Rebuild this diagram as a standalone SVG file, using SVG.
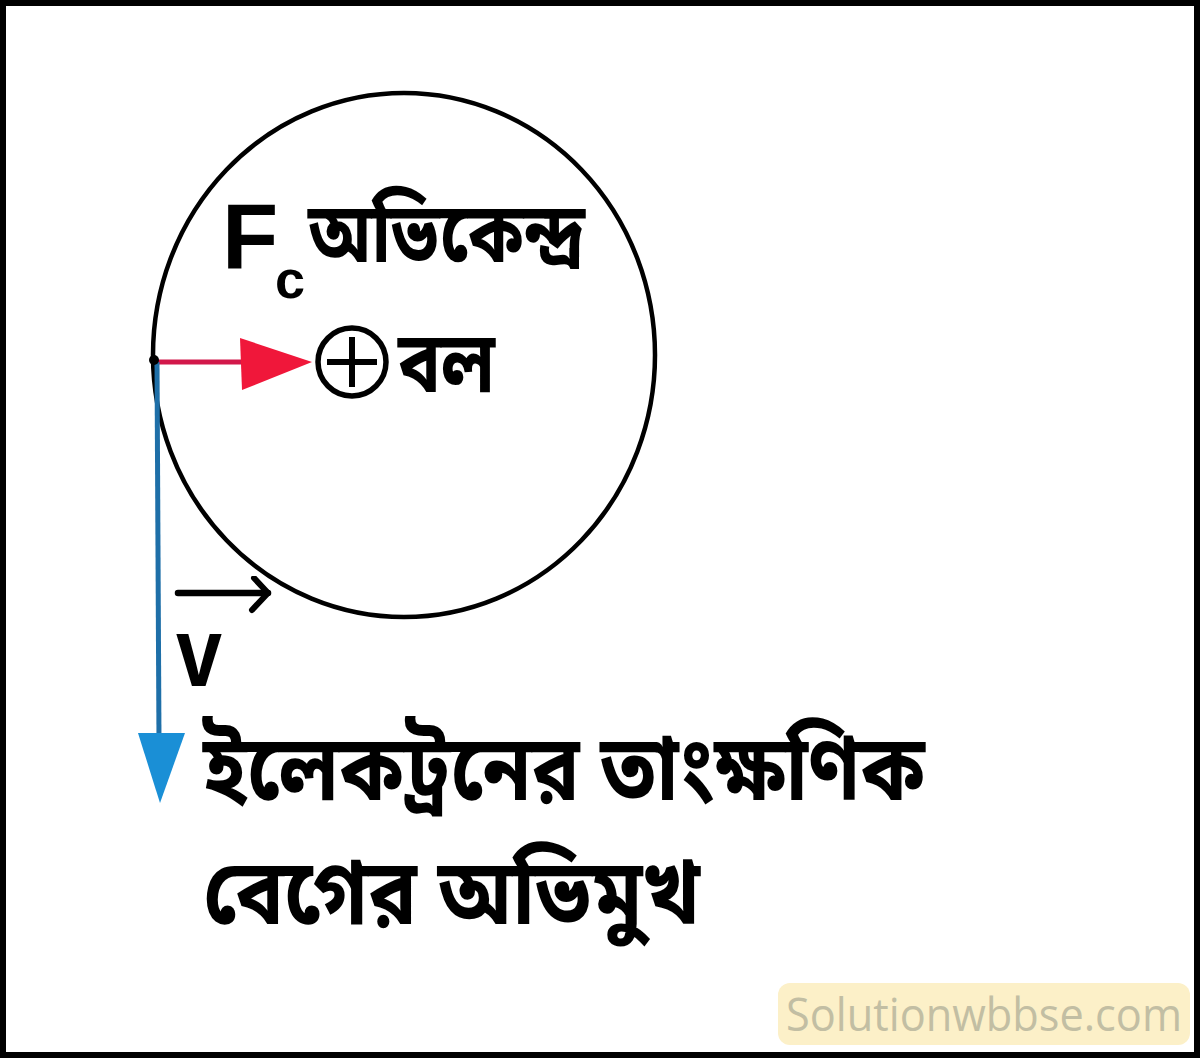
<svg xmlns="http://www.w3.org/2000/svg" width="1200" height="1058" viewBox="0 0 1200 1058">
<style>
.bn{font-family:"Noto Sans Bengali","Noto Serif Bengali","Lohit Bengali","Liberation Sans",sans-serif;font-weight:bold;fill:#000}
.lat{font-family:"Liberation Sans",Arial,sans-serif;font-weight:bold;fill:#000}
</style>
<defs>
<marker id="vhead" markerWidth="26" markerHeight="38" refX="20" refY="17" orient="auto" markerUnits="userSpaceOnUse">
<path d="M6,2 L20,17 L4,34" fill="none" stroke="#000" stroke-width="6" stroke-linejoin="round" stroke-linecap="round"/>
</marker>
</defs>
<rect x="3" y="3" width="1194" height="1052" fill="#fff" stroke="#000" stroke-width="6"/>
<g id="orbit">
<ellipse cx="404" cy="355" rx="251" ry="262" fill="none" stroke="#000" stroke-width="4.5"/>
</g>
<g id="nucleus">
<circle cx="352" cy="362" r="34" fill="#fff" stroke="#000" stroke-width="5.5"/>
<line x1="327" y1="362" x2="377" y2="362" stroke="#000" stroke-width="6"/>
<line x1="352" y1="337" x2="352" y2="387" stroke="#000" stroke-width="6"/>
</g>
<g id="connectors">
<line x1="155" y1="362" x2="245" y2="362" stroke="#d2184a" stroke-width="5"/>
<polygon points="240,338 312,362 242,390" fill="#f0173a"/>
<line x1="157" y1="362" x2="159" y2="740" stroke="#1e6fa8" stroke-width="5"/>
<polygon points="138,733 185,733 160,803" fill="#1a8fd6"/>
<line x1="178" y1="593" x2="268" y2="593" stroke="#000" stroke-width="6.5" stroke-linecap="round" marker-end="url(#vhead)"/>
</g>
<circle cx="154" cy="360" r="5" fill="#000"/>
<g id="labels">
<text class="lat" x="222" y="268" font-size="92">F</text>
<text class="lat" x="275" y="298" font-size="54">c</text>
<text class="bn" x="308" y="262" font-size="84" textLength="277" lengthAdjust="spacingAndGlyphs">অভিকেন্দ্র</text>
<text class="bn" x="398" y="392" font-size="86" textLength="97" lengthAdjust="spacingAndGlyphs">বল</text>
<text class="lat" x="176" y="686" font-size="98" textLength="46" lengthAdjust="spacingAndGlyphs">v</text>
<text class="bn" x="203" y="800" font-size="92" textLength="722" lengthAdjust="spacingAndGlyphs">ইলেকট্রনের তাংক্ষণিক</text>
<text class="bn" x="203" y="924" font-size="92" textLength="497" lengthAdjust="spacingAndGlyphs">বেগের অভিমুখ</text>
</g>
<g id="watermark">
<rect x="778" y="983" width="412" height="62" rx="12" fill="#fcf0c8"/>
<text x="984" y="1031" font-family="'Open Sans','Liberation Sans',sans-serif" font-size="45" fill="#c2bea3" text-anchor="middle" textLength="396" lengthAdjust="spacingAndGlyphs">Solutionwbbse.com</text>
</g>
</svg>
